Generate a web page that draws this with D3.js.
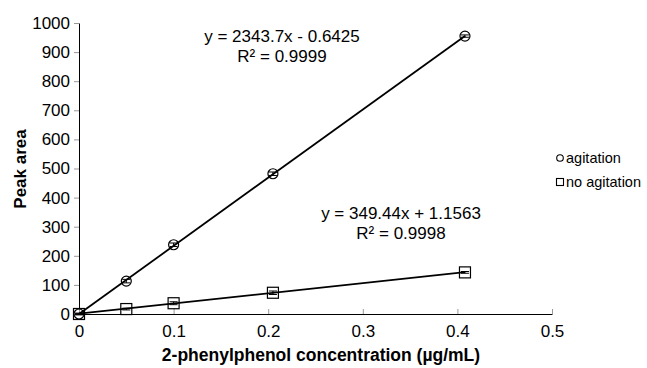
<!DOCTYPE html>
<html>
<head>
<meta charset="utf-8">
<script src="https://cdn.jsdelivr.net/npm/d3@7"></script>
<style>
  body { margin: 0; background: #fff; }
  text { font-family: "Liberation Sans", Arial, sans-serif; fill: #000; }
</style>
</head>
<body>
<svg width="647" height="368"></svg>
<script>
// concentration (ug/mL)
const conc = [0, 0.05, 0.1, 0.205, 0.408];
const agitation = [0, 113, 238, 482, 955];
const noAgitation = [0, 17, 37, 73, 143];
const errAgitation = [3, 6, 6, 6, 4];
const errNoAgitation = [2, 3, 5, 6, 3];
const fits = [
  { slope: 2343.7, icpt: -0.6425, eq: "y = 2343.7x - 0.6425", r2: "R² = 0.9999" },
  { slope: 349.44, icpt: 1.1563, eq: "y = 349.44x + 1.1563", r2: "R² = 0.9998" }
];
const xTicks = [0, 0.1, 0.2, 0.3, 0.4, 0.5];
const yTicks = d3.range(0, 1001, 100);

const svg = d3.select("svg");

const x = d3.scaleLinear().domain([0, 0.5]).range([79, 552]);
const y = d3.scaleLinear().domain([0, 1000]).range([314, 23]);

// y axis
const yAxis = svg.append("g")
  .attr("transform", "translate(79,0)")
  .call(d3.axisLeft(y).tickValues(yTicks).tickSize(5).tickPadding(4).tickSizeOuter(0)
    .tickFormat(d3.format("d")));
yAxis.attr("font-size", 17).attr("font-family", null);
yAxis.select(".domain").attr("stroke", "#000");
yAxis.selectAll(".tick line").attr("stroke", "#999");

// x axis
const xAxis = svg.append("g")
  .attr("transform", "translate(0,314)")
  .call(d3.axisBottom(x).tickValues(xTicks).tickSize(-5).tickPadding(11).tickSizeOuter(0)
    .tickFormat(d => d === 0 ? "0" : d3.format(".1f")(d)));
xAxis.attr("font-size", 17).attr("font-family", null);
xAxis.select(".domain").attr("stroke", "#000");
xAxis.selectAll(".tick line").attr("stroke", "#999");

// axis titles
svg.append("text")
  .attr("transform", "translate(26,169) rotate(-90)")
  .attr("text-anchor", "middle")
  .attr("font-size", 17).attr("font-weight", "bold")
  .text("Peak area");

svg.append("text")
  .attr("x", 321).attr("y", 361)
  .attr("text-anchor", "middle")
  .attr("font-size", 17.5).attr("font-weight", "bold")
  .text("2-phenylphenol concentration (µg/mL)");

// trendlines
const xMax = d3.max(conc);
fits.forEach(f => {
  svg.append("line")
    .attr("x1", x(0)).attr("y1", y(Math.max(0, f.icpt)))
    .attr("x2", x(xMax)).attr("y2", y(f.slope * xMax + f.icpt))
    .attr("stroke", "#000").attr("stroke-width", 1.8);
});

// error bars
function errBars(vals, errs) {
  const g = svg.append("g").attr("stroke", "#000").attr("stroke-width", 1);
  conc.forEach((c, i) => {
    const cx = x(c);
    g.append("line").attr("x1", cx).attr("x2", cx)
      .attr("y1", y(vals[i] - errs[i])).attr("y2", y(vals[i] + errs[i]));
    [vals[i] - errs[i], vals[i] + errs[i]].forEach(v => {
      g.append("line").attr("x1", cx - 4).attr("x2", cx + 4)
        .attr("y1", y(v)).attr("y2", y(v));
    });
  });
}
errBars(agitation, errAgitation);
errBars(noAgitation, errNoAgitation);

// markers
svg.append("g").selectAll("circle")
  .data(conc.map((c, i) => [c, agitation[i]]))
  .join("circle")
  .attr("cx", d => x(d[0])).attr("cy", d => y(d[1]))
  .attr("r", 5)
  .attr("fill", "none").attr("stroke", "#000").attr("stroke-width", 1.2);

svg.append("g").selectAll("rect")
  .data(conc.map((c, i) => [c, noAgitation[i]]))
  .join("rect")
  .attr("x", d => x(d[0]) - 5.5).attr("y", d => y(d[1]) - 5.5)
  .attr("width", 11).attr("height", 11)
  .attr("fill", "none").attr("stroke", "#000").attr("stroke-width", 1.2);

// equations
const eqPos = [[282, 42], [401, 219]];
fits.forEach((f, i) => {
  const t = svg.append("text")
    .attr("x", eqPos[i][0]).attr("y", eqPos[i][1])
    .attr("text-anchor", "middle").attr("font-size", 17);
  t.append("tspan").attr("x", eqPos[i][0]).text(f.eq);
  t.append("tspan").attr("x", eqPos[i][0]).attr("dy", 20).text(f.r2);
});

// legend
const legend = svg.append("g");
legend.append("circle")
  .attr("cx", 560).attr("cy", 158).attr("r", 3.3)
  .attr("fill", "none").attr("stroke", "#000").attr("stroke-width", 1.1);
legend.append("text")
  .attr("x", 566).attr("y", 163).attr("font-size", 14.5)
  .text("agitation");
legend.append("rect")
  .attr("x", 556.5).attr("y", 178.5).attr("width", 7).attr("height", 7)
  .attr("fill", "none").attr("stroke", "#000").attr("stroke-width", 1.1);
legend.append("text")
  .attr("x", 566).attr("y", 187).attr("font-size", 14.5)
  .text("no agitation");
</script>
</body>
</html>
